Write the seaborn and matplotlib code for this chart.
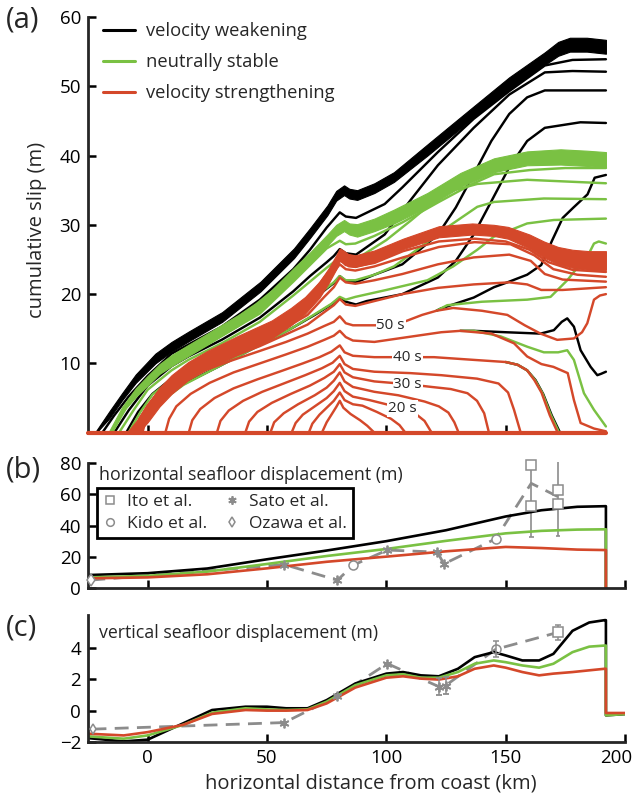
import seaborn as sns
import matplotlib.pyplot as plt
import matplotlib.transforms as mtransforms
from matplotlib.lines import Line2D

# | Style |-------------------------------------------------------------------------------------------------------------|
sns.set_theme(style="ticks")
plt.rcParams['font.family'] = ['Open Sans', 'DejaVu Sans']

C_VW = '#000000'   # velocity weakening
C_NS = '#7ac143'   # neutrally stable
C_VS = '#d4482a'   # velocity strengthening
C_OBS = '#8c8c8c'  # observations

X_MIN, X_END, X_MAX = -25, 192, 200

# | Panel (a): snapshots of cumulative slip (km, m) |------------------------------------------------------------------|
# early snapshots, identical for the three friction models
T10 = [(73.0, 0), (75.0, 1.5), (77.0, 2.6), (79.0, 3.7), (80.5, 4.6), (82.0, 3.6), (85.0, 2.7), (89.0, 1.8),
       (92.0, 1.0), (95.0, 0)]
T15 = [(67.5, 0), (69.0, 1.3), (72.0, 2.6), (75.0, 3.6), (78.0, 4.6), (80.5, 5.8), (82.5, 4.7), (86.0, 4.1),
       (90.0, 3.9), (96.0, 3.0), (102.0, 2.0), (105.5, 1.1), (108.0, 0)]
T20 = [(60.3, 0), (62.0, 1.4), (65.0, 2.6), (70.0, 3.8), (75.0, 5.0), (78.0, 6.0), (80.5, 7.2), (82.5, 6.0),
       (86.0, 5.2), (93.0, 4.7), (100.0, 4.1), (107.0, 3.5), (112.0, 2.8), (116.0, 1.7), (119.0, 0)]
T25 = [(51.4, 0), (53.0, 1.5), (57.0, 2.8), (63.0, 4.1), (70.0, 5.4), (75.0, 6.5), (78.0, 7.5), (80.5, 8.7),
       (82.5, 7.4), (86.0, 6.6), (95.0, 5.9), (105.0, 5.4), (116.0, 4.5), (122.0, 3.8), (126.0, 2.9),
       (128.5, 1.5), (130.3, 0)]
T30 = [(40.9, 0), (42.5, 1.6), (46.0, 3.0), (52.0, 4.3), (60.0, 5.6), (68.0, 6.8), (74.0, 7.9), (78.0, 8.8),
       (80.5, 9.9), (82.5, 8.7), (86.0, 8.0), (95.0, 7.4), (109.0, 7.0), (119.0, 6.6), (127.0, 6.3), (134.0, 5.7),
       (138.0, 4.6), (141.0, 2.8), (143.0, 0)]
T35 = [(29.0, 0), (30.5, 1.7), (34.0, 3.2), (40.0, 4.6), (48.0, 5.9), (57.0, 7.1), (66.0, 8.3), (73.0, 9.3),
       (77.5, 10.1), (80.5, 11.1), (82.5, 9.9), (86.0, 9.2), (95.0, 8.8), (110.0, 8.6), (123.0, 8.3), (138.0, 7.8),
       (147.0, 7.1), (151.0, 5.8), (153.5, 3.3), (156.3, 0)]
T40 = [(17.2, 0), (18.7, 1.8), (22.0, 3.4), (28.0, 5.0), (36.0, 6.4), (46.0, 7.7), (56.0, 8.9), (65.0, 10.0),
       (72.0, 10.9), (77.0, 11.7), (80.5, 12.6), (82.5, 11.6), (86.0, 11.1), (95.0, 10.9), (109.0, 10.9),
       (120.0, 10.9), (137.0, 10.5), (150.0, 10.2), (155.0, 9.8), (159.0, 9.0), (162.0, 7.6), (165.0, 5.8),
       (168.5, 2.5), (171.8, 0)]
T40_VW = [(150.0, 10.2), (155.0, 9.8), (159.0, 9.0), (162.5, 7.6), (165.7, 5.6), (169.3, 2.5), (172.8, 0)]
T40_NS = [(150.0, 10.2), (155.0, 9.8), (159.0, 9.0), (162.3, 7.6), (165.4, 5.7), (169.0, 2.5), (172.4, 0)]
T45 = [(7.4, 0), (9.0, 2.0), (12.0, 3.8), (18.0, 5.6), (26.0, 7.2), (36.0, 8.7), (47.0, 10.0), (58.0, 11.3),
       (67.0, 12.4), (74.0, 13.4), (78.0, 14.0), (80.5, 14.7), (83.0, 13.8), (86.0, 13.3), (95.0, 13.1),
       (109.0, 13.8), (123.0, 14.5), (131.0, 14.7), (144.0, 14.3), (153.5, 12.9), (159.0, 11.0), (165.0, 9.9),
       (170.0, 9.5), (176.0, 8.6), (178.6, 4.7), (181.4, 1.4), (187.0, 0.6), (192.0, 0.2)]
T45_VW = [(131.0, 14.7), (136.7, 14.7), (150.0, 14.5), (164.6, 14.3), (170.2, 14.8), (173.5, 16.0), (175.8, 16.5),
          (178.6, 15.3), (181.4, 11.9), (185.6, 9.5), (188.4, 8.3), (190.0, 8.5), (192.0, 8.8)]
T45_NS = [(131.0, 14.7), (136.7, 14.7), (147.9, 13.9), (159.1, 12.4), (166.0, 11.6), (172.0, 11.6), (175.8, 11.9),
          (178.6, 10.5), (182.8, 5.7), (187.0, 3.3), (192.0, 0.9)]
T50 = [(-2.2, 0), (-0.5, 2.2), (2.0, 4.0), (7.0, 5.8), (14.0, 7.4), (24.0, 9.0), (35.0, 10.4), (47.0, 11.8),
       (58.0, 13.1), (67.0, 14.3), (74.0, 15.4), (78.0, 16.0), (80.5, 16.8), (83.0, 15.8), (86.0, 15.5),
       (95.0, 15.5), (101.8, 15.5), (107.4, 16.0), (115.0, 17.0), (121.0, 17.6), (128.0, 18.0), (140.0, 17.6),
       (150.7, 17.0), (158.0, 15.5), (164.6, 14.3), (171.6, 13.4), (178.6, 13.6), (182.0, 14.5), (184.2, 15.8),
       (187.0, 19.2), (189.5, 19.8), (192.0, 20.0)]
T50_VW = [(121.0, 17.6), (122.7, 17.9), (136.6, 19.5), (145.1, 21.0), (151.5, 21.8), (159.0, 22.8), (164.9, 24.2),
          (169.4, 27.7), (173.9, 31.0), (178.4, 32.5), (184.3, 34.4), (187.3, 36.8), (192.0, 37.2)]
T50_NS = [(121.0, 17.6), (125.5, 18.4), (140.0, 18.9), (159.0, 19.2), (168.8, 19.6), (175.8, 22.0), (180.0, 23.8),
          (184.2, 25.4), (187.0, 27.3), (189.0, 27.6), (192.0, 27.3)]

# later snapshots, velocity weakening
VW_55 = [(-4.0, 0), (0.0, 2.6), (5.0, 4.5), (15.0, 7.0), (30.0, 9.6), (45.0, 12.3), (60.0, 15.0), (70.0, 17.0),
         (77.0, 18.5), (80.5, 19.5), (83.0, 18.9), (87.3, 18.5), (91.8, 19.0), (106.7, 20.0), (121.6, 22.4),
         (129.1, 24.8), (136.6, 28.6), (144.0, 33.4), (151.5, 38.3), (159.0, 42.1), (166.4, 44.0), (181.3, 44.8),
         (192.0, 44.7)]
VW_60 = [(-9.0, 0), (-4.0, 3.0), (2.0, 5.6), (10.0, 7.8), (17.0, 9.3), (31.0, 11.8), (47.0, 14.2), (61.0, 17.0),
         (68.0, 18.8), (75.0, 20.8), (78.0, 21.6), (80.5, 22.6), (83.0, 21.9), (87.3, 21.7), (95.0, 22.8),
         (106.7, 24.3), (121.6, 28.6), (129.1, 32.5), (136.6, 37.3), (144.0, 42.1), (151.5, 46.0), (159.0, 48.4),
         (166.4, 49.4), (192.0, 49.4)]
VW_65 = [(-14.0, 0), (-8.0, 3.2), (0.0, 6.8), (10.0, 9.6), (17.0, 11.0), (31.0, 13.4), (47.0, 16.6), (61.0, 20.4),
         (68.0, 22.6), (75.0, 24.6), (78.0, 25.5), (80.5, 26.5), (83.0, 25.9), (87.3, 25.7), (99.3, 28.6),
         (110.0, 33.5), (121.6, 38.6), (136.6, 44.0), (151.5, 48.8), (166.4, 52.0), (178.0, 52.2), (192.0, 52.1)]
VW_70 = [(-19.0, 0), (-14.0, 2.5), (-8.0, 5.2), (0.0, 8.2), (10.0, 11.4), (17.0, 12.7), (31.0, 15.3), (47.0, 19.2),
         (61.0, 23.6), (68.0, 26.4), (75.0, 29.6), (78.0, 30.8), (80.5, 31.8), (83.0, 31.2), (87.3, 31.0),
         (99.3, 33.0), (106.7, 35.4), (121.6, 40.5), (136.6, 45.3), (151.5, 49.3), (166.4, 53.0), (178.0, 53.8),
         (192.0, 53.9)]

# later snapshots, neutrally stable
NS_55 = [(-3.5, 0), (0.5, 2.6), (5.5, 4.5), (15.0, 6.9), (30.0, 9.6), (45.0, 12.3), (60.0, 15.0), (70.0, 17.1),
         (77.0, 18.6), (80.5, 19.6), (83.0, 19.2), (87.0, 19.6), (100.0, 20.6), (117.2, 22.0), (128.0, 24.0),
         (138.1, 26.4), (145.1, 28.3), (159.0, 30.2), (170.2, 30.7), (192.0, 30.9)]
NS_60 = [(-8.0, 0), (-3.0, 3.0), (2.0, 5.5), (10.0, 7.7), (17.0, 9.2), (31.0, 11.7), (47.0, 14.2), (61.0, 17.1),
         (68.0, 19.0), (75.0, 20.9), (78.0, 21.7), (80.5, 22.6), (83.0, 22.0), (87.0, 22.0), (95.0, 22.8),
         (103.2, 24.0), (114.0, 26.7), (124.1, 29.3), (138.1, 32.6), (145.1, 33.3), (166.0, 33.8), (192.0, 33.7)]
NS_65 = [(-12.0, 0), (-6.0, 3.2), (0.0, 6.2), (10.0, 9.0), (17.0, 10.5), (31.0, 12.9), (47.0, 16.0), (61.0, 19.8),
         (68.0, 21.8), (75.0, 23.8), (78.0, 24.6), (80.5, 25.2), (83.0, 24.6), (89.0, 25.4), (100.0, 27.8),
         (110.2, 30.6), (124.1, 34.6), (138.1, 35.9), (159.0, 36.5), (192.0, 36.0)]
NS_70 = [(-15.0, 0), (-9.0, 3.6), (0.0, 7.2), (10.0, 10.1), (17.0, 11.3), (31.0, 14.0), (47.0, 17.2), (61.0, 21.8),
         (68.0, 24.2), (75.0, 26.6), (78.0, 27.2), (80.5, 27.7), (83.0, 27.2), (87.0, 27.3), (95.0, 28.4),
         (107.0, 30.4), (122.0, 33.3), (136.0, 35.9), (145.1, 37.3), (160.0, 37.9), (175.0, 38.2), (192.0, 38.2)]

# later snapshots, velocity strengthening
VS_55 = [(-3.0, 0), (-1.0, 2.4), (2.0, 4.3), (7.0, 6.1), (14.0, 7.8), (24.0, 9.4), (35.0, 10.9), (47.0, 12.5),
         (58.0, 14.2), (67.0, 15.6), (74.0, 17.4), (78.0, 18.4), (80.5, 19.3), (83.0, 18.5), (87.0, 18.3),
         (95.0, 19.0), (106.7, 20.0), (121.6, 20.9), (136.6, 21.4), (151.5, 21.7), (159.0, 21.4), (164.9, 20.6),
         (173.9, 20.6), (192.0, 21.0)]
VS_60 = [(-4.0, 0), (-2.0, 2.3), (1.0, 4.2), (6.0, 6.1), (14.0, 8.1), (24.0, 9.8), (35.0, 11.4), (47.0, 13.2),
         (58.0, 15.2), (67.0, 17.0), (74.0, 19.6), (78.0, 21.0), (80.5, 22.4), (83.0, 21.7), (87.0, 21.5),
         (95.0, 22.0), (106.7, 22.9), (121.6, 24.3), (136.6, 25.3), (151.5, 25.7), (160.5, 24.8), (166.4, 22.9),
         (173.9, 22.1), (192.0, 21.8)]
VS_65 = [(-5.0, 0), (-3.0, 2.2), (0.0, 3.9), (6.0, 6.4), (14.0, 8.5), (24.0, 10.2), (35.0, 11.9), (47.0, 13.9),
         (58.0, 16.1), (67.0, 18.3), (74.0, 21.5), (78.0, 23.2), (80.5, 24.3), (83.0, 23.6), (87.0, 23.4),
         (95.0, 24.0), (107.0, 25.3), (122.0, 26.8), (137.0, 27.5), (152.0, 27.2), (162.0, 25.6), (170.0, 23.6),
         (180.0, 22.8), (192.0, 22.5)]
VS_70 = [(-6.0, 0), (-3.5, 2.0), (0.0, 3.8), (6.0, 6.6), (14.0, 8.8), (24.0, 10.6), (35.0, 12.4), (47.0, 14.5),
         (58.0, 16.9), (67.0, 19.2), (74.0, 22.4), (78.0, 24.0), (80.5, 25.0), (83.0, 24.2), (87.0, 24.0),
         (95.0, 24.5), (107.0, 26.2), (122.0, 27.6), (137.0, 28.0), (150.0, 27.6), (160.0, 26.4), (168.0, 24.6),
         (178.0, 23.5), (192.0, 23.2)]

# final snapshots pile up into bands (lower / upper edge)
VW_BAND_X = [-21.5, -16.0, -10.7, -5.0, 3.2, 10.0, 17.2, 31.2, 39.6, 47.3, 54.0, 61.3, 68.0, 75.3, 79.0, 82.3,
             84.5, 87.8, 95.0, 103.2, 117.2, 126.0, 136.6, 151.5, 166.4, 172.0, 176.9, 184.0, 192.0]
VW_BAND_HI = [0.3, 3.1, 5.7, 8.4, 11.4, 13.1, 14.6, 17.4, 19.7, 21.8, 24.1, 26.6, 29.5, 32.8, 34.9, 35.7,
              35.2, 35.0, 36.0, 37.6, 41.6, 44.1, 47.1, 51.3, 54.9, 56.4, 57.0, 57.0, 56.7]
VW_BAND_LO = [0.0, 2.1, 4.7, 7.2, 10.0, 11.7, 13.2, 16.0, 18.3, 20.4, 22.7, 25.2, 28.1, 31.4, 33.5, 34.3,
              33.8, 33.6, 34.6, 36.2, 40.0, 42.5, 45.5, 49.5, 53.1, 54.4, 55.0, 55.0, 54.7]
NS_BAND_X = [-16.0, -10.7, -5.0, 0.0, 5.0, 10.0, 17.2, 25.0, 31.2, 38.0, 45.2, 52.0, 61.3, 68.0, 75.3, 79.0,
             82.3, 84.5, 87.8, 95.0, 103.2, 117.2, 131.1, 145.1, 159.0, 173.0, 184.0, 192.0]
NS_BAND_HI = [0.3, 3.7, 6.4, 8.2, 9.9, 11.2, 12.7, 14.3, 15.6, 17.0, 18.7, 20.6, 23.8, 26.0, 28.6, 30.0,
              30.7, 30.2, 30.1, 30.9, 32.2, 34.6, 37.5, 39.6, 40.6, 40.9, 40.7, 40.5]
NS_BAND_LO = [0.0, 2.9, 5.2, 6.8, 8.5, 9.6, 11.1, 12.7, 14.0, 15.4, 17.1, 19.0, 22.2, 24.4, 27.0, 28.4,
              29.1, 28.6, 28.3, 29.1, 30.2, 32.6, 35.5, 37.6, 38.6, 38.7, 38.5, 38.3]
VS_BAND_X = [-8.0, -4.0, 0.0, 5.0, 10.0, 17.0, 25.0, 38.0, 52.0, 60.0, 66.0, 72.0, 76.0, 79.0, 80.5, 82.0,
             84.0, 87.0, 95.0, 107.0, 122.0, 136.0, 145.0, 151.0, 160.0, 166.0, 172.0, 178.0, 185.0, 192.0]
VS_BAND_HI = [0.3, 2.0, 4.2, 6.5, 8.3, 10.2, 11.8, 14.0, 16.2, 18.0, 19.6, 21.8, 23.8, 25.6, 26.6, 26.3,
              25.8, 25.6, 26.3, 28.0, 29.8, 30.2, 30.0, 29.7, 28.6, 27.6, 26.8, 26.4, 26.2, 26.2]
VS_BAND_LO = [0.0, 0.0, 1.5, 3.8, 5.6, 7.6, 9.2, 11.3, 13.6, 15.5, 17.2, 19.5, 21.7, 23.6, 24.8, 24.5,
              24.0, 23.9, 24.6, 26.5, 28.2, 28.6, 28.4, 28.0, 26.6, 25.3, 24.3, 23.8, 23.5, 23.5]

TIME_LABELS = ['20 s', '30 s', '40 s', '50 s']
TIME_LABEL_X = [106.8, 108.9, 108.9, 101.8]
TIME_LABEL_Y = [3.5, 7.0, 10.9, 15.5]

# | Panel (b): horizontal seafloor displacement (m) |------------------------------------------------------------------|
XB = [-25, 0, 25, 50, 75, 100, 125, 150, 165, 180, 192, 192]
HB_VW = [8.3, 9.5, 12.5, 18.4, 24.0, 30.0, 37.0, 45.8, 49.8, 52.0, 52.4, 0]
HB_NS = [6.8, 7.8, 10.5, 15.4, 20.5, 25.0, 30.2, 35.0, 36.6, 37.4, 37.6, 0]
HB_VS = [6.2, 6.8, 8.8, 12.6, 16.8, 20.1, 23.5, 26.3, 25.6, 24.6, 24.3, 0]

H_LINE_X = [-23.6, 57.3, 79.5, 86.2, 100.4, 121.4, 124.1, 145.8, 160.7, 171.9]
H_LINE_Y = [5.1, 15.0, 5.0, 14.7, 24.3, 23.0, 15.4, 31.5, 67.0, 58.5]
H_ITO_X = [160.7, 160.7, 171.9, 171.9]
H_ITO_Y = [78.7, 52.7, 62.7, 53.8]
H_ITO_BAR_X = [160.7, 171.9]
H_ITO_BAR_LO = [32.4, 33.6]
H_ITO_BAR_HI = [80.0, 80.5]
H_KIDO_X = [86.2, 145.8]
H_KIDO_Y = [14.7, 31.5]
H_SATO_X = [57.3, 79.5, 100.4, 121.4, 124.1]
H_SATO_Y = [15.0, 5.0, 24.3, 23.0, 15.4]
H_OZAWA_X = [-23.6]
H_OZAWA_Y = [5.1]

# | Panel (c): vertical seafloor displacement (m) |--------------------------------------------------------------------|
XC = [-25, -10, 0, 15, 27, 41, 50, 58, 67, 75, 87, 100, 107, 114.5, 122, 130, 137, 145, 150, 157, 164, 170, 178,
      185, 191.5, 192, 192, 200]
VC_VW = [-1.75, -1.96, -1.85, -0.80, 0.04, 0.25, 0.25, 0.15, 0.15, 0.67, 1.73, 2.36, 2.46, 2.25, 2.19, 2.67, 3.41,
         3.73, 3.52, 3.20, 3.20, 3.62, 5.09, 5.62, 5.77, 5.77, -0.30, -0.22]
VC_NS = [-1.64, -1.79, -1.58, -0.90, -0.13, 0.15, 0.08, 0.04, 0.08, 0.57, 1.62, 2.25, 2.32, 2.10, 2.10, 2.46, 2.99,
         3.20, 3.09, 2.88, 2.74, 2.99, 3.73, 4.08, 4.15, 4.15, -0.30, -0.22]
VC_VS = [-1.47, -1.58, -1.37, -0.90, -0.21, 0.04, 0.00, 0.00, 0.04, 0.46, 1.47, 2.10, 2.19, 2.04, 1.98, 2.19, 2.67,
         2.88, 2.74, 2.46, 2.25, 2.36, 2.46, 2.57, 2.67, 2.67, -0.15, -0.15]

V_LINE_X = [-23.1, 57.3, 79.5, 100.4, 122.0, 124.8, 145.8, 171.9]
V_LINE_Y = [-1.18, -0.76, 0.93, 3.0, 1.53, 1.6, 3.91, 4.99]
V_ITO_X, V_ITO_Y, V_ITO_ERR = [171.9], [4.99], [0.5]
V_KIDO_X, V_KIDO_Y, V_KIDO_ERR = [145.8], [3.91], [0.5]
V_SATO_X = [57.3, 79.5, 100.4, 122.0, 124.8]
V_SATO_Y = [-0.76, 0.93, 3.0, 1.53, 1.6]
V_SATO_ERR = [0.0, 0.0, 0.0, 0.52, 0.52]
V_OZAWA_X, V_OZAWA_Y = [-23.1], [-1.18]

ASTERISK = (6, 2, 0)


def curve(ax, pts, color, z, lw=1.75):
    xs = [p[0] for p in pts]
    ys = [p[1] for p in pts]
    sns.lineplot(x=xs, y=ys, ax=ax, color=color, lw=lw, sort=False, estimator=None, zorder=z)


def band(ax, xs, lo, hi, color, z):
    ax.fill_between(xs, lo, hi, color=color, lw=0.8, zorder=z)


def open_marker(ax, xs, ys, marker, ms=6.5):
    ax.plot(xs, ys, ls='none', marker=marker, ms=ms, mfc='white', mec=C_OBS, mew=1.1, zorder=4, clip_on=False)


def style_axis(ax):
    sns.despine(ax=ax)
    for side in ['left', 'bottom']:
        ax.spines[side].set_linewidth(2.0)
    ax.tick_params(axis='both', direction='in', length=6, width=1.8, labelsize=13.5, pad=5, colors='black')
    ax.set_xlim(X_MIN, X_MAX)
    ax.set_facecolor('white')


fig = plt.figure(figsize=(6.39, 7.97), dpi=100)
ax_a = fig.add_axes([0.1377, 0.4571, 0.8404, 0.5216])
ax_b = fig.add_axes([0.1377, 0.2622, 0.8404, 0.1568])
ax_c = fig.add_axes([0.1377, 0.0690, 0.8404, 0.1594])

# | (a) |---------------------------------------------------------------------------------------------------------------|
band(ax_a, VW_BAND_X, VW_BAND_LO, VW_BAND_HI, C_VW, 1)
for pts in [VW_55, VW_60, VW_65, VW_70, T40_VW, T45_VW, T50_VW]:
    curve(ax_a, pts, C_VW, 2)
band(ax_a, NS_BAND_X, NS_BAND_LO, NS_BAND_HI, C_NS, 3)
for pts in [NS_55, NS_60, NS_65, NS_70, T40_NS, T45_NS, T50_NS]:
    curve(ax_a, pts, C_NS, 4)
band(ax_a, VS_BAND_X, VS_BAND_LO, VS_BAND_HI, C_VS, 5)
for pts in [VS_55, VS_60, VS_65, VS_70, T10, T15, T20, T25, T30, T35, T40, T45, T50]:
    curve(ax_a, pts, C_VS, 6)
sns.lineplot(x=[X_MIN, X_END], y=[0, 0], ax=ax_a, color=C_VS, lw=3, zorder=7)
ax_a.lines[-1].set_clip_on(False)

for txt, x, y in zip(TIME_LABELS, TIME_LABEL_X, TIME_LABEL_Y):
    ax_a.text(x, y, txt, ha='center', va='center', fontsize=11, zorder=10,
              bbox=dict(facecolor='white', edgecolor='none', pad=0.6))

style_axis(ax_a)
ax_a.spines['bottom'].set_visible(False)
ax_a.set_ylim(0, 60)
ax_a.set_yticks([10, 20, 30, 40, 50, 60])
ax_a.set_xticks([0, 50, 100, 150])
ax_a.set_xticklabels([])
ax_a.set_xlabel('')
ax_a.set_ylabel('')
handles_a = [Line2D([], [], color=C_VW, lw=2.2), Line2D([], [], color=C_NS, lw=2.2), Line2D([], [], color=C_VS, lw=2.2)]
ax_a.legend(handles_a, ['velocity weakening', 'neutrally stable', 'velocity strengthening'],
            loc='upper left', bbox_to_anchor=(0.028, 0.988), frameon=False, fontsize=13.2,
            handlelength=1.75, handletextpad=0.6, labelspacing=0.72, borderpad=0, borderaxespad=0)

# | (b) |---------------------------------------------------------------------------------------------------------------|
ax_b.plot(H_LINE_X, H_LINE_Y, color=C_OBS, lw=2, ls=(0, (5, 3)), zorder=1)
ax_b.vlines(H_ITO_BAR_X, H_ITO_BAR_LO, H_ITO_BAR_HI, color=C_OBS, lw=1.2, zorder=1, clip_on=False)
ax_b.hlines(H_ITO_BAR_LO, [x - 1 for x in H_ITO_BAR_X], [x + 1 for x in H_ITO_BAR_X], color=C_OBS, lw=1.2)
sns.lineplot(x=XB, y=HB_VW, ax=ax_b, color=C_VW, lw=1.9, sort=False, estimator=None, zorder=2)
sns.lineplot(x=XB, y=HB_NS, ax=ax_b, color=C_NS, lw=1.9, sort=False, estimator=None, zorder=2.1)
sns.lineplot(x=XB, y=HB_VS, ax=ax_b, color=C_VS, lw=1.9, sort=False, estimator=None, zorder=2.2)
open_marker(ax_b, H_ITO_X, H_ITO_Y, 's')
open_marker(ax_b, H_KIDO_X, H_KIDO_Y, 'o')
open_marker(ax_b, H_OZAWA_X, H_OZAWA_Y, 'd')
ax_b.plot(H_SATO_X, H_SATO_Y, ls='none', marker=ASTERISK, ms=7, mec=C_OBS, mew=1.3, zorder=4)
style_axis(ax_b)
ax_b.set_ylim(0, 80)
ax_b.set_yticks([0, 20, 40, 60, 80])
ax_b.set_xticks([0, 50, 100, 150, 200])
ax_b.set_xticklabels([])
ax_b.set_xlabel('')
ax_b.set_ylabel('')
ax_b.text(-20.5, 72.5, 'horizontal seafloor displacement (m)', va='center', ha='left', fontsize=12.8)
obs_handles = [Line2D([], [], ls='none', marker='s', ms=5.5, mfc='white', mec=C_OBS, mew=1.1),
               Line2D([], [], ls='none', marker='o', ms=5.5, mfc='white', mec=C_OBS, mew=1.1),
               Line2D([], [], ls='none', marker=ASTERISK, ms=6, mec=C_OBS, mew=1.3),
               Line2D([], [], ls='none', marker='d', ms=5.5, mfc='white', mec=C_OBS, mew=1.1)]
leg = ax_b.legend(obs_handles, ['Ito et al.', 'Kido et al.', 'Sato et al.', 'Ozawa et al.'], ncol=2,
                  loc='upper left', bbox_to_anchor=(0.0168, 0.80), frameon=True, fancybox=False, framealpha=1,
                  edgecolor='black', fontsize=12.5, handlelength=0.8, handletextpad=0.6, columnspacing=1.0,
                  borderpad=0.35, labelspacing=0.3, borderaxespad=0)
leg.get_frame().set_linewidth(2.0)

# | (c) |---------------------------------------------------------------------------------------------------------------|
ax_c.plot(V_LINE_X, V_LINE_Y, color=C_OBS, lw=2, ls=(0, (5, 3)), zorder=1)
sns.lineplot(x=XC, y=VC_VW, ax=ax_c, color=C_VW, lw=1.9, sort=False, estimator=None, zorder=2)
sns.lineplot(x=XC, y=VC_NS, ax=ax_c, color=C_NS, lw=1.9, sort=False, estimator=None, zorder=2.1)
sns.lineplot(x=XC, y=VC_VS, ax=ax_c, color=C_VS, lw=1.9, sort=False, estimator=None, zorder=2.2)
ax_c.errorbar(V_SATO_X, V_SATO_Y, yerr=V_SATO_ERR, ls='none', marker=ASTERISK, ms=7, mec=C_OBS, mew=1.3,
              ecolor=C_OBS, elinewidth=1.1, capsize=2, zorder=4)
ax_c.errorbar(V_KIDO_X, V_KIDO_Y, yerr=V_KIDO_ERR, ls='none', marker='o', ms=6.5, mfc='none', mec=C_OBS,
              mew=1.1, ecolor=C_OBS, elinewidth=1.1, capsize=2, zorder=4)
ax_c.errorbar(V_ITO_X, V_ITO_Y, yerr=V_ITO_ERR, ls='none', marker='s', ms=6.5, mfc='white', mec=C_OBS,
              mew=1.1, ecolor=C_OBS, elinewidth=1.1, capsize=2, zorder=4)
open_marker(ax_c, V_OZAWA_X, V_OZAWA_Y, 'd', ms=5.5)
style_axis(ax_c)
ax_c.set_ylim(-2, 6.1)
ax_c.set_yticks([-2, 0, 2, 4])
ax_c.set_xticks([0, 50, 100, 150, 200])
ax_c.set_ylabel('')
ax_c.set_xlabel('')
ax_c.text(-20.5, 4.92, 'vertical seafloor displacement (m)', va='center', ha='left', fontsize=12.8)
# keep the last tick label ("200") inside the figure edge
last_label = ax_c.get_xticklabels()[-1]
last_label.set_transform(last_label.get_transform()
                         + mtransforms.ScaledTranslation(-6 / 72, 0, fig.dpi_scale_trans))

# | Figure texts |------------------------------------------------------------------------------------------------------|
fig.text(37 / 639, 1 - 230 / 797, 'cumulative slip (m)', rotation=90, ha='center', va='center', fontsize=14.5)
fig.text(371 / 639, 1 - 783 / 797, 'horizontal distance from coast (km)', ha='center', va='center', fontsize=14.5)
fig.text(6 / 639, 1 - 6 / 797, '(a)', ha='left', va='top', fontsize=21)
fig.text(6 / 639, 1 - 455 / 797, '(b)', ha='left', va='top', fontsize=21)
fig.text(6 / 639, 1 - 613 / 797, '(c)', ha='left', va='top', fontsize=21)

fig.savefig('out.png', dpi=100, facecolor='white')
